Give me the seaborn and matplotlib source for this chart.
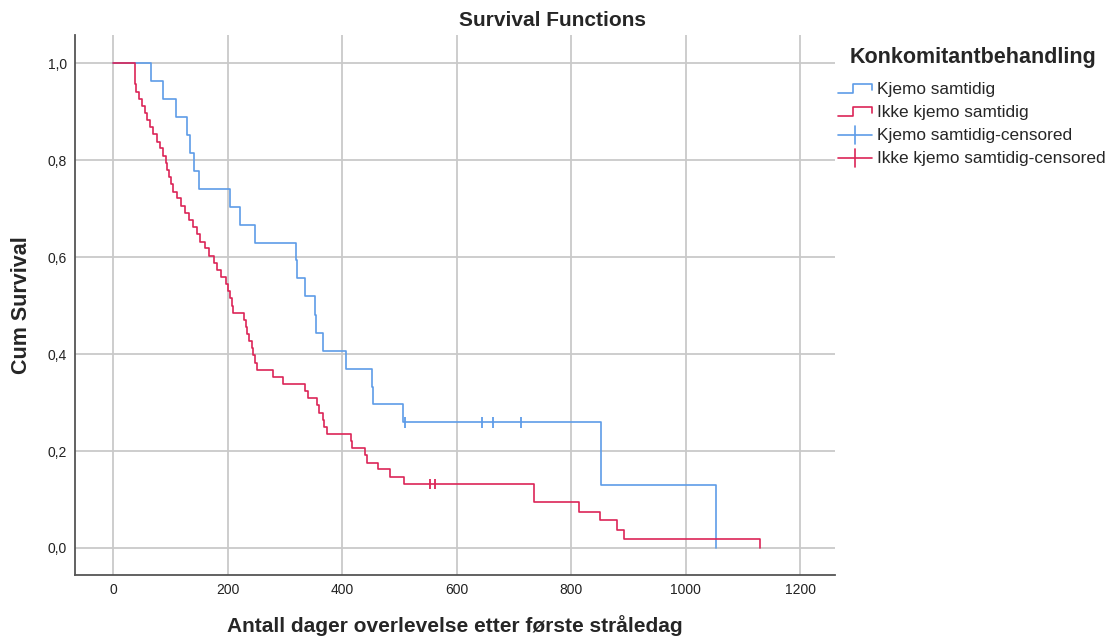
import numpy as np
import pandas as pd
import matplotlib
matplotlib.use("Agg")
import matplotlib.pyplot as plt
from matplotlib.lines import Line2D
from matplotlib.legend_handler import HandlerBase
import seaborn as sns

# --- data (days, cumulative survival after each step) ---
kjemo_label = 'Kjemo samtidig'
ikke_label = 'Ikke kjemo samtidig'

kjemo_days = [0, 67, 87, 110, 130, 134, 142, 151, 204, 222, 248, 319, 321, 336,
              353, 355, 366, 407, 452, 454, 507, 852, 1054]
kjemo_surv = [1.0, 0.963, 0.926, 0.889, 0.852, 0.815, 0.778, 0.741, 0.704, 0.667,
              0.630, 0.593, 0.556, 0.519, 0.481, 0.444, 0.407, 0.370, 0.333, 0.296,
              0.259, 0.130, 0.0]
kjemo_cens_days = [510, 644, 663, 713]
kjemo_cens_surv = [0.259, 0.259, 0.259, 0.259]

ikke_days = [0, 38, 41, 46, 50, 55, 60, 65, 70, 76, 82, 87, 92, 95, 98, 101, 105,
             112, 118, 126, 133, 139, 146, 152, 160, 168, 176, 182, 189, 197, 201,
             205, 208, 209, 228, 232, 234, 238, 243, 245, 248, 251, 279, 297, 335,
             341, 356, 360, 366, 369, 373, 416, 418, 440, 444, 463, 484, 508, 736,
             814, 850, 881, 893, 1130]
ikke_surv = [1.0, 0.956, 0.941, 0.926, 0.912, 0.897, 0.882, 0.868, 0.853, 0.838,
             0.824, 0.809, 0.794, 0.779, 0.765, 0.750, 0.735, 0.721, 0.706, 0.691,
             0.676, 0.662, 0.647, 0.632, 0.618, 0.603, 0.588, 0.574, 0.559, 0.544,
             0.529, 0.515, 0.500, 0.485, 0.471, 0.456, 0.441, 0.426, 0.412, 0.397,
             0.382, 0.368, 0.353, 0.338, 0.324, 0.309, 0.294, 0.279, 0.265, 0.250,
             0.235, 0.221, 0.206, 0.191, 0.176, 0.162, 0.147, 0.132, 0.094, 0.075,
             0.057, 0.038, 0.019, 0.0]
ikke_cens_days = [554, 562]
ikke_cens_surv = [0.132, 0.132]

x_ticks = [0, 200, 400, 600, 800, 1000, 1200]
y_ticks = [0.0, 0.2, 0.4, 0.6, 0.8, 1.0]

blue = '#5E9CE8'
red = '#DC2557'
palette = {kjemo_label: blue, ikke_label: red}

steps = pd.concat([
    pd.DataFrame({'days': kjemo_days, 'surv': kjemo_surv, 'group': kjemo_label}),
    pd.DataFrame({'days': ikke_days, 'surv': ikke_surv, 'group': ikke_label}),
], ignore_index=True)
cens = pd.concat([
    pd.DataFrame({'days': kjemo_cens_days, 'surv': kjemo_cens_surv, 'group': kjemo_label}),
    pd.DataFrame({'days': ikke_cens_days, 'surv': ikke_cens_surv, 'group': ikke_label}),
], ignore_index=True)

sns.set_theme(style="whitegrid")
plt.rcParams['font.family'] = ['Liberation Sans', 'DejaVu Sans']

fig = plt.figure(figsize=(11.11, 6.42), dpi=100)
ax = fig.add_axes([75 / 1111, 1 - 575 / 642, 760 / 1111, 540 / 642])

sns.lineplot(data=steps, x='days', y='surv', hue='group', palette=palette,
             estimator=None, sort=False, drawstyle='steps-post', linewidth=1.2,
             legend=False, ax=ax)
sns.scatterplot(data=cens, x='days', y='surv', hue='group', palette=palette,
                marker='|', s=60, linewidth=1.3, legend=False, ax=ax)

ax.set_xlim(-66.4, 1261)
ax.set_ylim(-0.0557, 1.058)
ax.set_xticks(x_ticks)
ax.set_xticklabels([str(t) for t in x_ticks])
ax.set_yticks(y_ticks)
ax.set_yticklabels([f'{t:.1f}'.replace('.', ',') for t in y_ticks])
ax.tick_params(axis='both', length=0, labelsize=10, colors='#222222')
ax.tick_params(axis='x', pad=6)
ax.tick_params(axis='y', pad=6)
ax.grid(True, color='#C9C9C9', linewidth=1.3)
ax.set_facecolor('white')
for side in ['top', 'right']:
    ax.spines[side].set_visible(False)
for side in ['left', 'bottom']:
    ax.spines[side].set_visible(True)
    ax.spines[side].set_color('#555555')
    ax.spines[side].set_linewidth(1.3)

ax.set_xlabel('Antall dager overlevelse etter første stråledag', fontsize=15,
              fontweight='bold', labelpad=13)
ax.set_ylabel('Cum Survival', fontsize=15.5, fontweight='bold', labelpad=11)
fig.text(0.497, 1 - 20 / 642, 'Survival Functions', ha='center', va='center',
         fontsize=15, fontweight='bold')


# --- legend handles: step shape for the curves, cross for censored ---
class StepHandler(HandlerBase):
    def create_artists(self, legend, orig, xd, yd, w, h, fs, trans):
        xs = np.array([0, 0.45, 0.45, 1.0, 1.0]) * w - xd
        ys = np.array([0.1, 0.1, 0.85, 0.85, 0.3]) * h - yd
        ln = Line2D(xs, ys, color=orig.get_color(), linewidth=1.2, transform=trans)
        return [ln]


class CensHandler(HandlerBase):
    def create_artists(self, legend, orig, xd, yd, w, h, fs, trans):
        ln = Line2D([-xd, w - xd], [0.45 * h - yd] * 2, color=orig.get_color(),
                    linewidth=1.2, transform=trans)
        tick = Line2D([0.5 * w - xd] * 2, [-0.3 * h - yd, 1.2 * h - yd],
                      color=orig.get_color(), linewidth=1.2, transform=trans)
        return [ln, tick]


fig.text(850 / 1111, 1 - 58 / 642, 'Konkomitantbehandling', ha='left', va='center',
         fontsize=15.5, fontweight='bold')

h_kjemo = Line2D([], [], color=blue)
h_ikke = Line2D([], [], color=red)
h_kjemo_c = Line2D([], [], color=blue)
h_ikke_c = Line2D([], [], color=red)
leg = fig.legend([h_kjemo, h_ikke, h_kjemo_c, h_ikke_c],
                 [kjemo_label, ikke_label, kjemo_label + '-censored', ikke_label + '-censored'],
                 handler_map={h_kjemo: StepHandler(), h_ikke: StepHandler(),
                              h_kjemo_c: CensHandler(), h_ikke_c: CensHandler()},
                 loc='upper left', bbox_to_anchor=(824 / 1111, 1 - 68 / 642),
                 frameon=False, fontsize=12.4, handlelength=2.0, handletextpad=0.25,
                 labelspacing=0.47, borderpad=0.3)

fig.savefig('out.png', dpi=100)
